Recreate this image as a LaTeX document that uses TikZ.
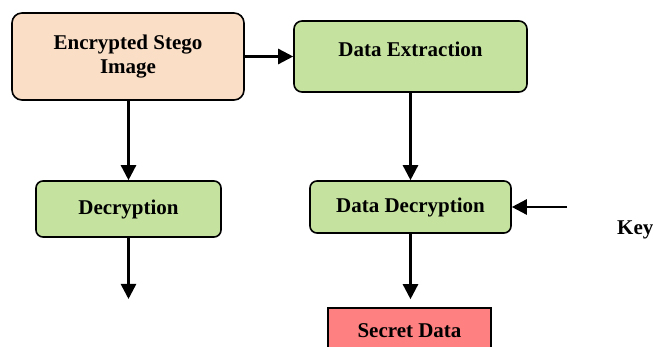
\documentclass[tikz,border=0pt]{standalone}
\usepackage{fontspec}
\setmainfont{Liberation Serif}
\usetikzlibrary{arrows.meta}
\definecolor{peach}{HTML}{FBDEC6}
\definecolor{leaf}{HTML}{C5E39F}
\definecolor{rose}{HTML}{FF8080}
\begin{document}
\begin{tikzpicture}[x=1pt,y=-1pt,
  every node/.style={font=\fontsize{21}{24}\selectfont\bfseries, inner sep=0pt},
  procbox/.style={draw=black, line width=1.6pt, rounded corners=#1, align=center},
  procbox/.default=8pt,
  flow/.style={draw=black, line width=2.5pt, -{Triangle[length=15pt,width=15pt]}}]
  \clip (0,0) rectangle (653,347);
  \fill[white] (0,0) rectangle (653,347);

  % process boxes
  \node[procbox=10pt, fill=peach, minimum width=232pt, minimum height=87pt]
    (esi) at (128,56.5) {Encrypted Stego\\Image};
  \node[procbox, fill=leaf, minimum width=233pt, minimum height=71pt,
        text height=15pt, text depth=15pt]
    (dex) at (410.5,56.5) {Data Extraction};
  \node[procbox=7pt, fill=leaf, minimum width=185pt, minimum height=56pt]
    (dec) at (128.5,209) {Decryption};
  \node[procbox=7pt, fill=leaf, minimum width=201pt, minimum height=52pt]
    (ddec) at (410.5,207) {Data Decryption};
  \node[draw=black, line width=1.6pt, fill=rose, minimum width=163pt, minimum height=46pt]
    (sec) at (409.5,331) {Secret Data};

  \node[anchor=base west] (key) at (617,235) {Key};

  \coordinate (decout) at (128.5,299);
  \coordinate (keyin) at (567,207);

  % connectors
  \draw[flow] (esi.east) -- (dex.west);
  \draw[flow] (esi.south -| dec.north) -- (dec.north);
  \draw[flow] (dec.south) -- (decout);
  \draw[flow] (dex.south) -- (ddec.north);
  \draw[flow, shorten >=8pt] (ddec.south) -- (ddec.south |- sec.north);
  \draw[flow] (keyin) -- (ddec.east);
\end{tikzpicture}
\end{document}
